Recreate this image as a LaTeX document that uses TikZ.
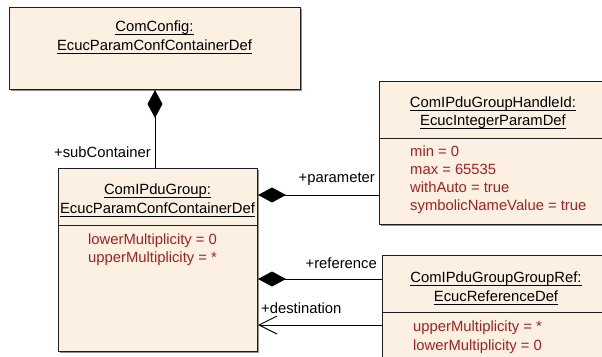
\documentclass[tikz,border=0pt]{standalone}
\usepackage{fontspec}
\setmainfont{Liberation Sans}
\usetikzlibrary{arrows.meta,shadows}
\definecolor{boxfill}{RGB}{251,240,225}
\definecolor{attrred}{RGB}{165,32,32}
\definecolor{edgegray}{RGB}{30,30,30}
\begin{document}
\begin{tikzpicture}[x=1pt,y=-1pt,
  font=\fontsize{14.8}{17}\selectfont,
  classbox/.style={draw=edgegray, line width=1pt, fill=boxfill, inner sep=0pt,
    anchor=north west,
    drop shadow={shadow xshift=1.3pt, shadow yshift=-1.3pt, fill=black!55, opacity=0.8}},
  title/.style={anchor=base, inner sep=0pt},
  attr/.style={anchor=base west, inner sep=0pt, text=attrred},
  role/.style={inner sep=0pt},
  sepline/.style={draw=edgegray, line width=1pt},
  comp/.style={draw=black, line width=1pt, -{Diamond[length=28pt,width=15pt,fill=black]}},
  nav/.style={draw=black, line width=1pt, -{Straight Barb[length=18pt,width=18pt]}}]

\clip (0,0) rectangle (602,356);
\fill[white] (0,0) rectangle (602,356);

% class boxes
\node[classbox, minimum width=291pt, minimum height=82pt] (cfg) at (9,7) {};
\node[classbox, minimum width=199pt, minimum height=183pt] (grp) at (58,168) {};
\node[classbox, minimum width=228pt, minimum height=143pt] (hid) at (379,81) {};
\node[classbox, minimum width=228pt, minimum height=130pt] (gref) at (382,255) {};

% compartment separators
\draw[sepline] (58,225) -- (257,225);
\draw[sepline] (379,138) -- (607,138);
\draw[sepline] (382,312) -- (610,312);

% class names
\node[title] (cfgA) at (154.5,31) {ComConfig:};
\node[title] (cfgB) at (154.5,50) {EcucParamConfContainerDef};
\node[title] (grpA) at (157.5,194) {ComIPduGroup:};
\node[title] (grpB) at (157.5,213) {EcucParamConfContainerDef};
\node[title] (hidA) at (493,107) {ComIPduGroupHandleId:};
\node[title] (hidB) at (493,125.5) {EcucIntegerParamDef};
\node[title] (grefA) at (496,282.5) {ComIPduGroupGroupRef:};
\node[title] (grefB) at (496,301) {EcucReferenceDef};
\foreach \n in {cfgA,cfgB,grpA,grpB,hidA,hidB,grefA,grefB}
  \draw[line width=0.9pt] ([yshift=-3.3pt]\n.base west) -- ([yshift=-3.3pt]\n.base east);

% attributes
\node[attr] (grpAt1) at (88,244.5) {lowerMultiplicity = 0};
\node[attr] (grpAt2) at (88,262) {upperMultiplicity = *};
\node[attr] (hidAt1) at (410,156) {min = 0};
\node[attr] (hidAt2) at (410,174) {max = 65535};
\node[attr] (hidAt3) at (410,192) {withAuto = true};
\node[attr] (hidAt4) at (410,210) {symbolicNameValue = true};
\node[attr] (grefAt1) at (413,331.5) {upperMultiplicity = *};
\node[attr] (grefAt2) at (413,350) {lowerMultiplicity = 0};

% connector rows
\coordinate (rowPar) at (0,195);
\coordinate (rowRef) at (0,279);
\coordinate (rowDst) at (0,325);

\draw[comp] (cfg.south |- grp.north) -- (cfg.south);
\draw[comp] (hid.west |- rowPar) -- (grp.east |- rowPar);
\draw[comp] (gref.west |- rowRef) -- (grp.east |- rowRef);
\draw[nav] (gref.west |- rowDst) -- (grp.east |- rowDst);

% role names
\node[role, anchor=base east] (rSub) at (151,157) {+subContainer};
\node[role, anchor=base east] (rPar) at (375,182) {+parameter};
\node[role, anchor=base east] (rRef) at (377,268) {+reference};
\node[role, anchor=base west] (rDst) at (261,313) {+destination};
\end{tikzpicture}
\end{document}
